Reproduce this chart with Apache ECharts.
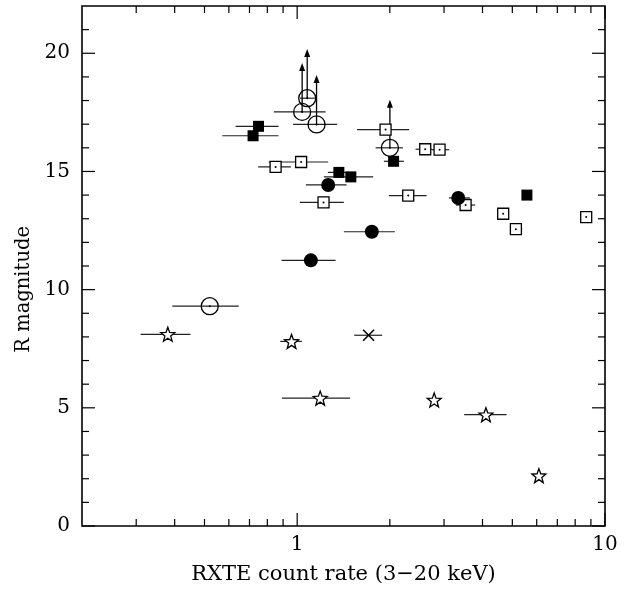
<!DOCTYPE html>
<html>
<head>
<meta charset="utf-8">
<script src="https://cdn.jsdelivr.net/npm/echarts@6/dist/echarts.min.js"></script>
<style>html,body{margin:0;padding:0;background:#fff}#c{width:630px;height:590px}</style>
</head>
<body>
<div id="c"></div>
<script>
// ---- data (x = RXTE count rate, y = R magnitude, lo/hi = x error range) ----
const fsX  = [0.749, 0.719, 1.366, 1.494, 2.057, 5.576];
const fsY  = [16.91, 16.51, 14.96, 14.77, 15.43, 14.0];
const fsLo = [0.631, 0.571, 1.258, 1.221, 1.913, null];
const fsHi = [0.870, 0.870, 1.483, 1.766, 2.222, null];

const osX  = [0.851, 1.030, 1.218, 1.937, 2.606, 2.901, 2.295, 3.525, 4.670, 5.135, 8.688];
const osY  = [15.19, 15.40, 13.69, 16.77, 15.94, 15.92, 13.98, 13.58, 13.21, 12.56, 13.07];
const osLo = [0.747, 0.809, 1.020, 1.566, 2.424, 2.739, 1.986, 3.279, 4.478, 4.911, null];
const osHi = [0.954, 1.261, 1.418, 2.311, 2.739, 3.117, 2.633, 3.787, 4.873, 5.383, null];

const ocX  = [1.078, 1.038, 1.156, 2.001, 0.520];
const ocY  = [18.10, 17.52, 16.99, 16.00, 9.30];
const ocLo = [1.020, 0.840, 0.970, 1.798, 0.393];
const ocHi = [1.142, 1.237, 1.349, 2.205, 0.646];
const ocArrowTip = [20.18, 19.59, 19.08, 18.03, null];

const fcX  = [1.261, 1.748, 3.336, 1.108];
const fcY  = [14.43, 12.45, 13.88, 11.24];
const fcLo = [1.067, 1.418, 3.111, 0.890];
const fcHi = [1.447, 2.077, 3.640, 1.333];

const stX  = [0.380, 0.959, 1.188, 2.787, 4.104, 6.099];
const stY  = [8.11, 7.81, 5.41, 5.33, 4.71, 2.13];
const stLo = [0.310, 0.881, 0.892, null, 3.488, null];
const stHi = [0.450, 1.036, 1.486, null, 4.790, null];

const crX  = [1.706];
const crY  = [8.07];
const crLo = [1.532];
const crHi = [1.889];

// axis tick values
const xMajorTicks = [1, 10];
const xMinorTicks = [0.3,0.4,0.5,0.6,0.7,0.8,0.9,2,3,4,5,6,7,8,9];
const yMajorTicks = [0, 5, 10, 15, 20];
const yMinorTicks = [1,2,3,4,6,7,8,9,11,12,13,14,16,17,18,19,21];

const X_MIN = 0.2, X_MAX = 10, Y_MIN = 0, Y_MAX = 22;
const FONT = 'DejaVu Serif';

// ---- helpers ----
function pts(xs, ys) { return xs.map((x, i) => [x, ys[i]]); }
function errData(xs, ys, lo, hi) {
  const out = [];
  xs.forEach((x, i) => { if (lo[i] != null) out.push([x, ys[i], lo[i], hi[i]]); });
  return out;
}
const allErr = [].concat(
  errData(fsX, fsY, fsLo, fsHi), errData(osX, osY, osLo, osHi),
  errData(ocX, ocY, ocLo, ocHi), errData(fcX, fcY, fcLo, fcHi),
  errData(stX, stY, stLo, stHi), errData(crX, crY, crLo, crHi));
const arrowData = [];
ocX.forEach((x, i) => { if (ocArrowTip[i] != null) arrowData.push([x, ocY[i], ocArrowTip[i]]); });

function starPath() {
  let d = '';
  for (let i = 0; i < 10; i++) {
    const a = (-90 + i * 36) * Math.PI / 180;
    const r = i % 2 ? 0.42 : 1;
    d += (i ? 'L' : 'M') + (r * Math.cos(a)).toFixed(3) + ' ' + (r * Math.sin(a)).toFixed(3);
  }
  return 'path://' + d + 'Z';
}

const chart = echarts.init(document.getElementById('c'), null, {renderer: 'canvas'});

function tickSeries(axis, values, len) {
  return {
    type: 'custom', silent: true, clip: false, z: 5,
    data: values.map(v => [v]),
    renderItem: function (params, api) {
      const v = api.value(0);
      if (axis === 'x') {
        const a = api.coord([v, Y_MIN]), b = api.coord([v, Y_MAX]);
        return {type: 'group', children: [
          {type: 'line', shape: {x1: a[0], y1: a[1], x2: a[0], y2: a[1] - len}, style: {stroke: '#000', lineWidth: 1.2}},
          {type: 'line', shape: {x1: b[0], y1: b[1], x2: b[0], y2: b[1] + len}, style: {stroke: '#000', lineWidth: 1.2}}
        ]};
      }
      const c = api.coord([X_MIN, v]), d = api.coord([X_MAX, v]);
      return {type: 'group', children: [
        {type: 'line', shape: {x1: c[0], y1: c[1], x2: c[0] + len, y2: c[1]}, style: {stroke: '#000', lineWidth: 1.2}},
        {type: 'line', shape: {x1: d[0], y1: d[1], x2: d[0] - len, y2: d[1]}, style: {stroke: '#000', lineWidth: 1.2}}
      ]};
    }
  };
}

const option = {
  animation: false,
  backgroundColor: '#fff',
  grid: {left: 82, right: 25, top: 6, bottom: 61, show: true, borderColor: '#000', borderWidth: 1.6, backgroundColor: 'transparent'},
  graphic: [{
    type: 'text', left: 14, top: 226, rotation: Math.PI / 2,
    style: {text: 'R magnitude', fill: '#000', font: '19.5px "DejaVu Serif"'},
    silent: true
  }],
  xAxis: {
    type: 'log', logBase: 10, min: X_MIN, max: X_MAX,
    axisLine: {show: false}, axisTick: {show: false}, splitLine: {show: false},
    axisLabel: {color: '#000', fontFamily: FONT, fontSize: 20, margin: 9, showMinLabel: true, showMaxLabel: true,
      formatter: v => (Math.abs(v - 1) < 1e-9 ? '1' : (Math.abs(v - 10) < 1e-9 ? '10' : ''))},
    name: 'RXTE count rate (3\u221220 keV)', nameLocation: 'middle', nameGap: 38,
    nameTextStyle: {color: '#000', fontFamily: FONT, fontSize: 21}
  },
  yAxis: {
    type: 'value', min: Y_MIN, max: Y_MAX, interval: 5,
    axisLine: {show: false}, axisTick: {show: false}, splitLine: {show: false},
    axisLabel: {color: '#000', fontFamily: FONT, fontSize: 20, margin: 12,
      formatter: v => (v % 5 === 0 && v <= 20 ? String(v) : '')}
  },
  series: [
    tickSeries('x', xMajorTicks, 13),
    tickSeries('x', xMinorTicks, 7),
    tickSeries('y', yMajorTicks, 13),
    tickSeries('y', yMinorTicks, 7),
    {
      type: 'custom', silent: true, z: 2,
      data: allErr,
      renderItem: function (params, api) {
        const a = api.coord([api.value(2), api.value(1)]);
        const b = api.coord([api.value(3), api.value(1)]);
        return {type: 'line', shape: {x1: a[0], y1: a[1], x2: b[0], y2: b[1]}, style: {stroke: '#222', lineWidth: 1.2}};
      }
    },
    {
      type: 'custom', silent: true, z: 2,
      data: arrowData,
      renderItem: function (params, api) {
        const a = api.coord([api.value(0), api.value(1)]);
        const b = api.coord([api.value(0), api.value(2)]);
        return {type: 'group', children: [
          {type: 'line', shape: {x1: a[0], y1: a[1], x2: b[0], y2: b[1] + 4}, style: {stroke: '#000', lineWidth: 1.3}},
          {type: 'polygon', shape: {points: [[b[0], b[1]], [b[0] - 3, b[1] + 8], [b[0] + 3, b[1] + 8]]}, style: {fill: '#000'}}
        ]};
      }
    },
    // markers
    {type: 'scatter', z: 3, data: pts(osX, osY), symbol: 'rect', symbolSize: 11,
      itemStyle: {color: '#fff', borderColor: '#000', borderWidth: 1.3, opacity: 1}},
    {type: 'scatter', z: 3, data: pts(ocX, ocY), symbol: 'circle', symbolSize: 17,
      itemStyle: {color: 'rgba(255,255,255,0)', borderColor: '#000', borderWidth: 1.3, opacity: 1}},
    {type: 'scatter', z: 4, data: pts(osX, osY).concat(pts(ocX, ocY)), symbol: 'circle', symbolSize: 2,
      itemStyle: {color: '#000', opacity: 1}},
    {type: 'scatter', z: 3, data: pts(fsX, fsY), symbol: 'rect', symbolSize: 11,
      itemStyle: {color: '#000', opacity: 1}},
    {type: 'scatter', z: 3, data: pts(fcX, fcY), symbol: 'circle', symbolSize: 14,
      itemStyle: {color: '#000', opacity: 1}},
    {type: 'scatter', z: 3, data: pts(stX, stY), symbol: starPath(), symbolSize: 14,
      itemStyle: {color: '#fff', borderColor: '#000', borderWidth: 1.3, opacity: 1}},
    {type: 'scatter', z: 3, data: pts(crX, crY), symbol: 'path://M-1 -1L1 1M1 -1L-1 1', symbolSize: 11,
      itemStyle: {color: 'none', borderColor: '#000', borderWidth: 1.6, opacity: 1}}
  ]
};
chart.setOption(option);
</script>
</body>
</html>
